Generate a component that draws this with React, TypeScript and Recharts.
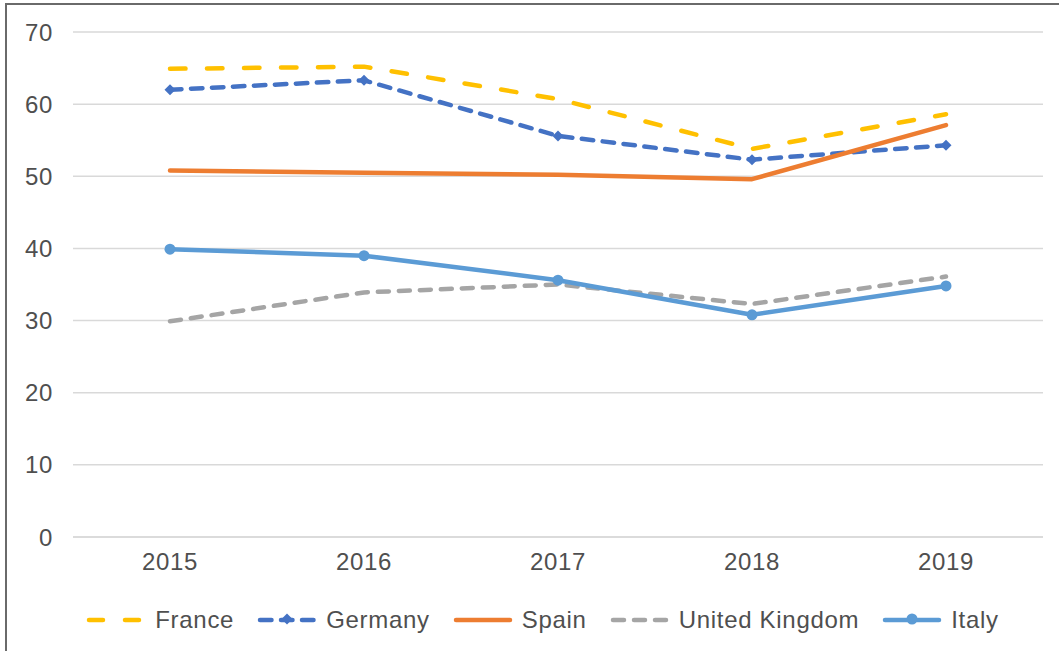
import React from "react";
import { LineChart, Line, XAxis, YAxis, CartesianGrid, Legend } from "recharts";

const years = ["2015", "2016", "2017", "2018", "2019"];
const france = [64.9, 65.2, 60.7, 53.8, 58.6];
const germany = [62.0, 63.3, 55.6, 52.3, 54.3];
const spain = [50.8, 50.5, 50.2, 49.6, 57.1];
const unitedKingdom = [29.9, 33.9, 35.0, 32.3, 36.1];
const italy = [39.9, 39.0, 35.6, 30.8, 34.8];
const yTicks = [0, 10, 20, 30, 40, 50, 60, 70];

const data = years.map((y, i) => ({
  year: y,
  France: france[i],
  Germany: germany[i],
  Spain: spain[i],
  "United Kingdom": unitedKingdom[i],
  Italy: italy[i],
}));

const FONT = "'Liberation Sans', Arial, Helvetica, sans-serif";
const TEXT = "#4f4f4f";

type SeriesStyle = { key: string; color: string; dash?: string; marker?: "diamond" | "circle" };
const seriesStyles: SeriesStyle[] = [
  { key: "France", color: "#FFC000", dash: "15.5 21.5" },
  { key: "Germany", color: "#4472C4", dash: "11.5 9.5", marker: "diamond" },
  { key: "Spain", color: "#ED7D31" },
  { key: "United Kingdom", color: "#A5A5A5", dash: "11 10" },
  { key: "Italy", color: "#5B9BD5", marker: "circle" },
];

const makeDiamond = (color: string) => (props: any) => {
  const { cx, cy, index } = props;
  if (cx == null || cy == null) return <g key={index} />;
  const s = 5.5;
  return (
    <path
      key={index}
      d={`M${cx},${cy - s}L${cx + s},${cy}L${cx},${cy + s}L${cx - s},${cy}Z`}
      fill={color}
    />
  );
};

const makeCircle = (color: string) => (props: any) => {
  const { cx, cy, index } = props;
  if (cx == null || cy == null) return <g key={index} />;
  return <circle key={index} cx={cx} cy={cy} r={5.5} fill={color} />;
};

const LegendContent = () => (
  <div
    style={{
      display: "flex",
      justifyContent: "center",
      alignItems: "center",
      height: 30,
      fontFamily: FONT,
      fontSize: 24,
      letterSpacing: 0.7,
      color: TEXT,
    }}
  >
    {seriesStyles.map((s) => (
      <div key={s.key} style={{ display: "flex", alignItems: "center", margin: "0 11px" }}>
        <svg width={62} height={20} style={{ marginRight: 8 }}>
          <line
            x1={4}
            y1={10}
            x2={58}
            y2={10}
            stroke={s.color}
            strokeWidth={4.5}
            strokeLinecap="round"
            strokeDasharray={s.key === "France" ? "14 22" : s.dash}
          />
          {s.marker === "diamond" && makeDiamond(s.color)({ cx: 31, cy: 9, index: 0 })}
          {s.marker === "circle" && makeCircle(s.color)({ cx: 31, cy: 9, index: 0 })}
        </svg>
        <span>{s.key}</span>
      </div>
    ))}
  </div>
);

export default function App() {
  return (
    <div
      style={{
        position: "absolute",
        left: 0,
        top: 0,
        width: 1059,
        height: 651,
        overflow: "hidden",
        background: "#fff",
      }}
    >
      <div
        style={{
          position: "absolute",
          left: 5,
          top: 3,
          width: 1200,
          height: 800,
          borderLeft: "2px solid #6a6a6a",
          borderTop: "2px solid #6a6a6a",
        }}
      />
      <div style={{ position: "absolute", left: 0, top: 0 }}>
        <LineChart
          width={1059}
          height={651}
          data={data}
          margin={{ top: 32, right: 16, bottom: 54, left: 0 }}
        >
          <CartesianGrid vertical={false} stroke="#D9D9D9" strokeWidth={1.5} />
          <XAxis
            dataKey="year"
            padding={{ left: 97, right: 97 }}
            axisLine={{ stroke: "#D9D9D9", strokeWidth: 1.5 }}
            tickLine={false}
            tickSize={6}
            tickMargin={10}
            height={30}
            tick={{ fill: TEXT, fontSize: 24, fontFamily: FONT, letterSpacing: 0.7 }}
          />
          <YAxis
            width={73}
            domain={[0, 70]}
            ticks={yTicks}
            axisLine={false}
            tickLine={false}
            tickSize={6}
            tickMargin={14}
            tick={{ fill: TEXT, fontSize: 24, fontFamily: FONT, letterSpacing: 0.7 }}
          />
          <Legend
            content={<LegendContent />}
            wrapperStyle={{ top: 605, left: 0, width: 1084, height: 30 }}
          />
          {seriesStyles.map((s) => (
            <Line
              key={s.key}
              type="linear"
              dataKey={s.key}
              stroke={s.color}
              strokeWidth={4.5}
              strokeLinecap="round"
              strokeLinejoin="round"
              strokeDasharray={s.dash}
              dot={
                s.marker === "diamond"
                  ? makeDiamond(s.color)
                  : s.marker === "circle"
                  ? makeCircle(s.color)
                  : false
              }
              activeDot={false}
              isAnimationActive={false}
            />
          ))}
        </LineChart>
      </div>
    </div>
  );
}
